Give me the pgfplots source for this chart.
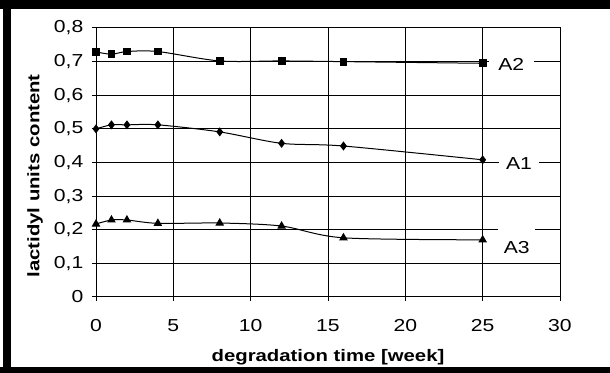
\documentclass[border=0pt]{standalone}
\usepackage{fontspec}
\setmainfont{Liberation Sans}[FakeStretch=1.22]
\usepackage{pgfplots}
\pgfplotsset{compat=1.18}
\pgfplotstableread{
x y
0 0.729
1 0.722
2 0.730
4 0.730
8 0.702
12 0.702
16 0.700
25 0.695
}\Atwo
\pgfplotstableread{
x y
0 0.500
1 0.512
2 0.512
4 0.512
8 0.491
12 0.457
16 0.449
25 0.408
}\Aone
\pgfplotstableread{
x y
0 0.217
1 0.229
2 0.229
4 0.219
8 0.220
12 0.211
16 0.176
25 0.170
}\Athree
\begin{document}
\begin{tikzpicture}[x=0.75pt,y=0.75pt]
\fill[black] (0,364) rectangle (610,373);
\fill[black] (3,0) rectangle (11,373);
\fill[black] (0,0) rectangle (610,6);
\begin{axis}[
 at={(72pt,57pt)}, anchor=south west, scale only axis, width=348pt, height=201.75pt,
 xmin=0,xmax=30,ymin=0,ymax=0.8,
 xtick={0,5,10,15,20,25,30}, ytick={0,0.1,0.2,0.3,0.4,0.5,0.6,0.7,0.8},
 grid=major, grid style={black, line width=0.75pt},
 axis line style={black, line width=0.75pt},
 tick style={black, line width=0.75pt}, major tick length=3pt,
 tick align=outside, xtick pos=bottom, ytick pos=left,
 /pgf/number format/assume math mode=true,
 /pgf/number format/use comma,
 yticklabel style={/pgf/number format/fixed, /pgf/number format/precision=1, xshift=-3pt},
 xticklabel style={yshift=-10.5pt},
 tick label style={font=\fontsize{13}{15}\selectfont},
 xlabel={degradation time [week]}, ylabel={lactidyl units content},
 label style={font=\bfseries\fontsize{12.5}{14}\selectfont},
 xlabel style={at={(axis description cs:0.5,-0.223)}, anchor=center},
 ylabel style={at={(axis description cs:-0.1315,0.45)}, anchor=center},
 clip=false,
]
\addplot[black, line width=0.75pt, smooth, tension=0.5, mark=square*, mark size=2.6pt, mark options={solid, fill=black}] table {\Atwo};
\addplot[black, line width=0.75pt, smooth, tension=0.5, mark=diamond*, mark size=2.8pt, mark options={solid, fill=black}] table {\Aone};
\addplot[black, line width=0.75pt, smooth, tension=0.5, mark=triangle*, mark size=3pt, mark options={solid, fill=black}] table {\Athree};
\node[fill=white, inner xsep=7pt, inner ysep=1pt, font=\fontsize{13}{15}\selectfont] at (axis cs:26.85,0.693) {A2};
\node[fill=white, inner xsep=5.5pt, inner ysep=1pt, font=\fontsize{13}{15}\selectfont] at (axis cs:27.35,0.396) {A1};
\fill[white] (axis cs:25.99,0.19) rectangle (axis cs:28.38,0.21);
\node[inner sep=0pt, font=\fontsize{13}{15}\selectfont] at (axis cs:27.2,0.146) {A3};
\end{axis}
\pgfresetboundingbox
\path[use as bounding box] (0,0) rectangle (610,373);
\end{tikzpicture}
\end{document}
